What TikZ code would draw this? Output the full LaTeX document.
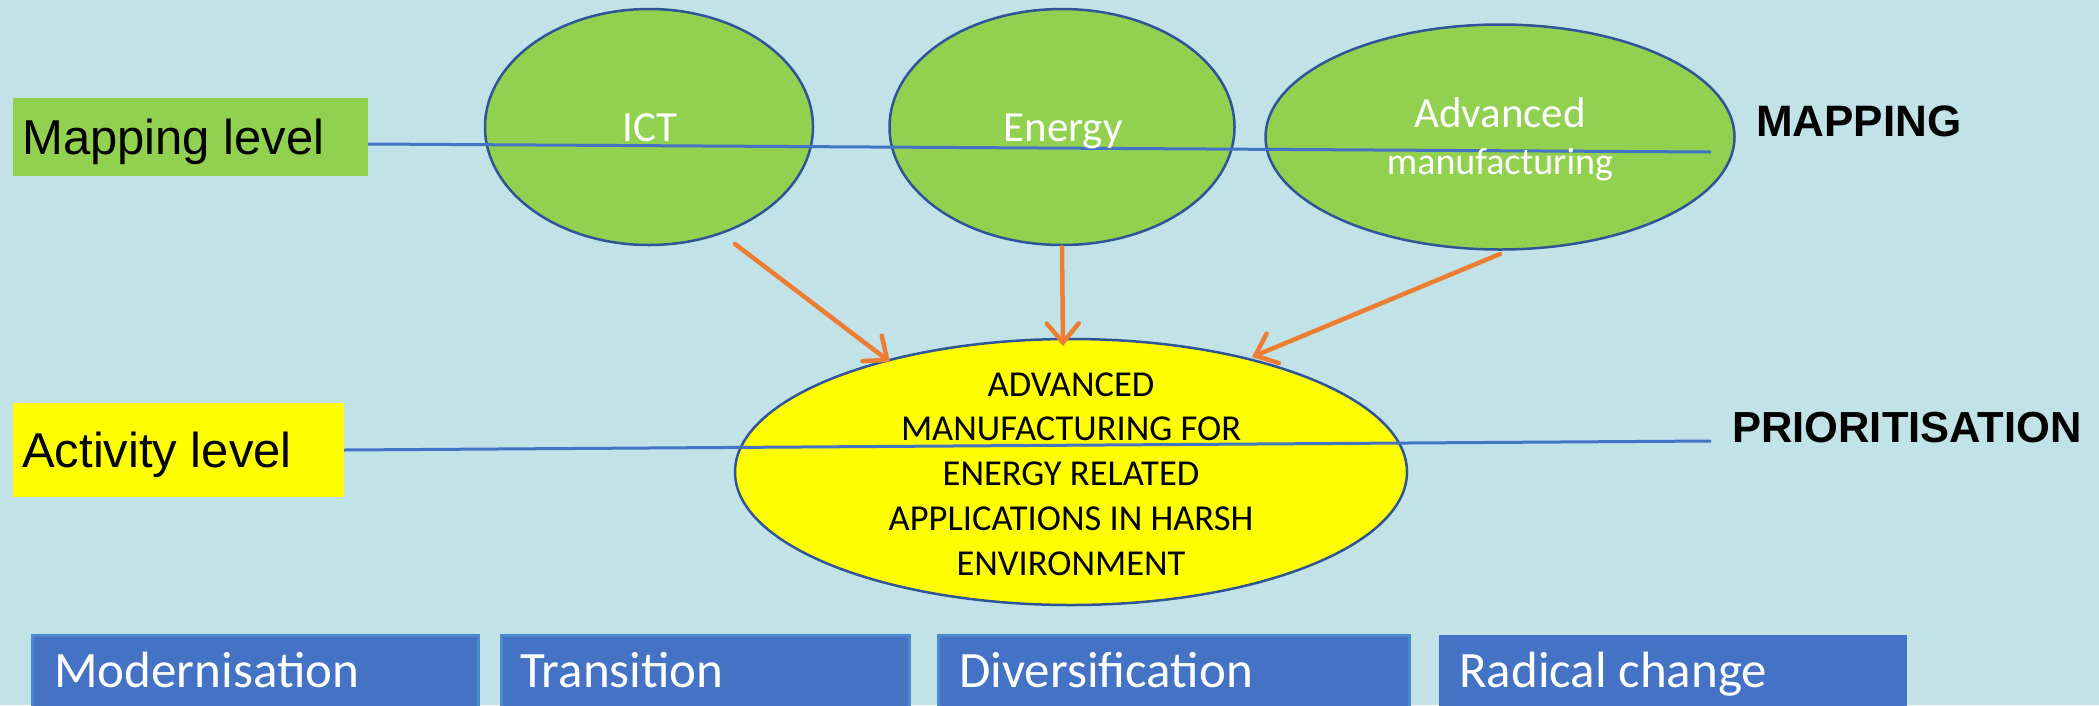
\documentclass[tikz,border=0pt]{standalone}
\usepackage{fontspec}
\setmainfont{Liberation Sans}
\newfontfamily\calibri{Carlito}
\usetikzlibrary{shapes.geometric,arrows.meta}
\definecolor{bgc}{RGB}{193,227,231}
\definecolor{grn}{RGB}{146,208,80}
\definecolor{elb}{RGB}{47,85,151}
\definecolor{lblue}{RGB}{68,114,196}
\definecolor{org}{RGB}{237,125,49}
\definecolor{ylw}{RGB}{255,255,0}
\definecolor{bbox}{RGB}{68,114,196}
\definecolor{bborder}{RGB}{72,138,205}
\begin{document}
\begin{tikzpicture}[x=1pt,y=-1pt,
  greenell/.style={ellipse, draw=elb, line width=2.5pt, fill=grn, inner sep=0pt},
  yellowell/.style={ellipse, draw=elb, line width=2.5pt, fill=ylw, inner sep=0pt},
  tagtext/.style={font=\fontsize{49}{59}\selectfont, anchor=base west, inner sep=0pt},
  etext/.style={font=\calibri\fontsize{43}{52}\selectfont, text=white, inner sep=0pt, anchor=base},
  bigword/.style={font=\bfseries\fontsize{44}{53}\selectfont, anchor=base west, inner sep=0pt},
  bluebox/.style={fill=bbox, draw=bborder, line width=2.5pt, anchor=north west, inner sep=0pt},
  btext/.style={font=\calibri\fontsize{51}{61}\selectfont, text=white, anchor=base west, inner sep=0pt},
  arr/.style={draw=org, line width=4.5pt, line cap=round, -{Straight Barb[length=19pt,width=32pt,line cap=round]}},
  lvl/.style={draw=lblue, line width=3pt}]
\useasboundingbox (0,0) rectangle (2099,705);
\clip (0,0) rectangle (2099,705);
\fill[bgc] (0,0) rectangle (2099,705);

% level boxes
\node[fill=grn, inner sep=0pt, minimum width=355pt, minimum height=78pt] (mapbox) at (190.5,137) {};
\node[fill=ylw, inner sep=0pt, minimum width=331pt, minimum height=94pt] (actbox) at (178.5,450) {};
\node[tagtext] (maptxt) at (22,154) {Mapping level};
\node[tagtext] (acttxt) at (22,467) {Activity level};

% green ellipses
\node[greenell, minimum width=328pt, minimum height=236pt] (ict) at (649,127) {};
\node[greenell, minimum width=345pt, minimum height=236pt] (energy) at (1062,127) {};
\node[greenell, minimum width=469pt, minimum height=225pt] (adv) at (1500,137) {};

% yellow ellipse
\node[yellowell, minimum width=672pt, minimum height=266pt] (target) at (1071,472) {};

% level lines
\coordinate (mapend) at (1711,152);
\coordinate (actend) at (1711,441);
\draw[lvl] ([yshift=-7pt]mapbox.east) -- (mapend);
\draw[lvl] (actbox.east) -- (actend);

% ellipse texts
\node[etext] (ictt) at (650,141) {ICT};
\node[etext] (energyt) at (1063,141) {Energy};
\node[etext] (advt) at (1500,127) {Advanced};
\node[etext, font=\calibri\fontsize{38}{46}\selectfont] (mant) at (1500,174) {manufacturing};
\node[font=\calibri\fontsize{36.5}{44.75}\selectfont, align=center, inner sep=0pt] (targett) at (1071,474)
  {ADVANCED\\MANUFACTURING FOR\\ENERGY RELATED\\APPLICATIONS IN HARSH\\ENVIRONMENT};

% headings
\node[bigword] (mapping) at (1756,136) {MAPPING};
\node[bigword, font=\bfseries\fontsize{43.5}{52}\selectfont] (prior) at (1732,442) {PRIORITISATION};

% arrows
\coordinate (a1s) at (735,244);
\coordinate (a1e) at (890,362);
\coordinate (a2e) at (1063,346);
\coordinate (a3s) at (1500,254);
\coordinate (a3e) at (1252,357);
\draw[arr] (a1s) -- (a1e);
\draw[arr] ([yshift=-1pt]energy.south) -- (a2e);
\draw[arr] (a3s) -- (a3e);

% bottom boxes
\node[bluebox, minimum width=446pt, minimum height=100pt] (b1) at (31,634) {};
\node[bluebox, minimum width=408pt, minimum height=100pt] (b2) at (500,634) {};
\node[bluebox, minimum width=471pt, minimum height=100pt] (b3) at (937,634) {};
\node[bluebox, draw=none, minimum width=468pt, minimum height=100pt] (b4) at (1438,634) {};
\node[btext] (b1t) at (54,687) {Modernisation};
\node[btext] (b2t) at (520,687) {Transition};
\node[btext] (b3t) at (959,687) {Diversification};
\node[btext] (b4t) at (1459,687) {Radical change};
\end{tikzpicture}
\end{document}
